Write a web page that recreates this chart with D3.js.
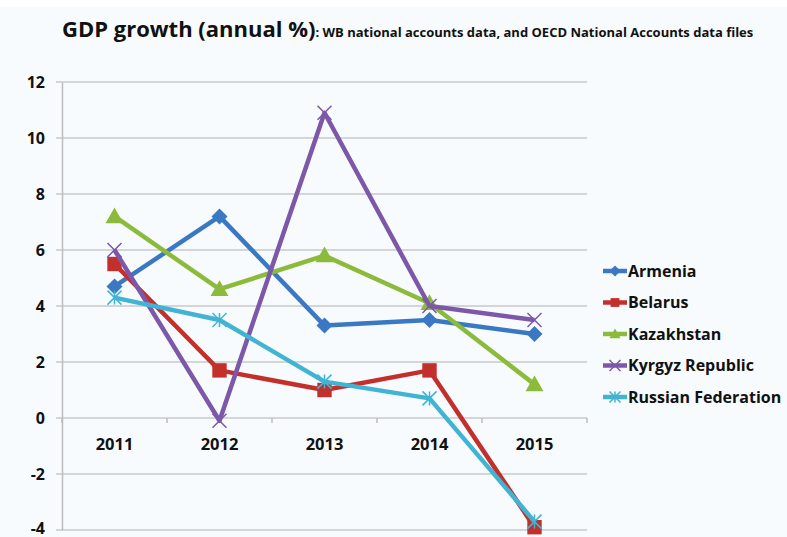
<!DOCTYPE html>
<html>
<head>
<meta charset="utf-8">
<script src="https://cdn.jsdelivr.net/npm/d3@7"></script>
<style>
  html, body { margin: 0; padding: 0; background: #ffffff; }
  svg { display: block; }
  text { font-family: "Open Sans", "Noto Sans", sans-serif; font-weight: bold; fill: #111; }
</style>
</head>
<body>
<svg id="chart" width="787" height="537"></svg>
<script>
// GDP growth (annual %), 2011–2015
const years = ["2011", "2012", "2013", "2014", "2015"];
const armenia    = [4.7, 7.2, 3.3, 3.5, 3.0];
const belarus    = [5.5, 1.7, 1.0, 1.7, -3.9];
const kazakhstan = [7.2, 4.6, 5.8, 4.1, 1.2];
const kyrgyz     = [6.0, -0.1, 10.9, 4.0, 3.5];
const russia     = [4.3, 3.5, 1.3, 0.7, -3.7];
const yTicks = [-4, -2, 0, 2, 4, 6, 8, 10, 12];

const series = [
  { name: "Armenia", values: armenia, color: "#3a78c4", marker: "diamond" },
  { name: "Belarus", values: belarus, color: "#c3302b", marker: "square" },
  { name: "Kazakhstan", values: kazakhstan, color: "#8cbb3c", marker: "triangle" },
  { name: "Kyrgyz Republic", values: kyrgyz, color: "#7d57a8", marker: "cross" },
  { name: "Russian Federation", values: russia, color: "#40b4d2", marker: "asterisk" }
];

const svg = d3.select("#chart");
const W = 787, H = 537;

// page backdrop
svg.append("rect").attr("width", W).attr("height", H).attr("fill", "#f7fbfd");
svg.append("rect").attr("width", W).attr("height", 7).attr("fill", "#ffffff");

const plot = { left: 62, right: 587, top: 82, bottom: 530 };

const x = d3.scaleBand().domain(years).range([plot.left, plot.right]);
const y = d3.scaleLinear().domain([-4, 12]).range([plot.bottom, plot.top]);

// title
const title = svg.append("text").attr("x", 62).attr("y", 37);
title.append("tspan").attr("font-size", 22).text("GDP growth (annual %)");
title.append("tspan").attr("font-size", 13).text(": WB national accounts data, and OECD National Accounts data files");

// horizontal gridlines
svg.append("g")
  .selectAll("line")
  .data(yTicks)
  .join("line")
  .attr("x1", plot.left - 6)
  .attr("x2", plot.right)
  .attr("y1", d => y(d))
  .attr("y2", d => y(d))
  .attr("stroke", "#c9c9c9")
  .attr("stroke-width", 1.5);

// y axis
const yAxis = d3.axisLeft(y).tickValues(yTicks).tickSize(0).tickPadding(17).tickFormat(d => String(d));
const gy = svg.append("g").attr("transform", `translate(${plot.left},0)`).call(yAxis);
gy.select(".domain").attr("stroke", "#bdbdbd").attr("stroke-width", 1.5);
gy.selectAll("text").attr("font-size", 16).attr("fill", "#111")
  .attr("font-family", "'Open Sans', sans-serif").attr("font-weight", "bold")
  .attr("dy", d => d === -4 ? "0.22em" : "0.32em");

// x axis at zero
const xAxis = d3.axisBottom(x).tickSize(0).tickPadding(20);
const gx = svg.append("g").attr("transform", `translate(0,${y(0)})`).call(xAxis);
gx.select(".domain").attr("stroke", "none");
gx.selectAll("text").attr("font-size", 16.5).attr("fill", "#111")
  .attr("font-family", "'Open Sans', sans-serif").attr("font-weight", "bold");
// category boundary ticks
const bounds = years.map(d => x(d)).concat([plot.right]);
gx.append("g").selectAll("line").data(bounds).join("line")
  .attr("x1", d => d).attr("x2", d => d).attr("y1", 0).attr("y2", 5)
  .attr("stroke", "#bdbdbd").attr("stroke-width", 1.5);

const cx = d => x(d) + x.bandwidth() / 2;

const line = d3.line()
  .x((d, i) => cx(years[i]))
  .y(d => y(d));

function drawMarker(g, type, color, size) {
  const s = size;
  if (type === "diamond") {
    g.append("path").attr("d", `M0,${-s}L${s},0L0,${s}L${-s},0Z`).attr("fill", color);
  } else if (type === "square") {
    g.append("rect").attr("x", -s * 0.8).attr("y", -s * 0.8).attr("width", s * 1.6).attr("height", s * 1.6).attr("fill", color);
  } else if (type === "triangle") {
    g.append("path").attr("d", `M0,${-s}L${s},${s * 0.75}L${-s},${s * 0.75}Z`).attr("fill", color);
  } else if (type === "cross") {
    g.append("path").attr("d", `M${-s},${-s}L${s},${s}M${-s},${s}L${s},${-s}`)
      .attr("stroke", color).attr("stroke-width", 1.5).attr("fill", "none");
  } else if (type === "asterisk") {
    g.append("path").attr("d", `M${-s},${-s}L${s},${s}M${-s},${s}L${s},${-s}M0,${-s}L0,${s}`)
      .attr("stroke", color).attr("stroke-width", 1.5).attr("fill", "none");
  }
}

const markerSize = { diamond: 8, square: 9, triangle: 9, cross: 7, asterisk: 7 };

series.forEach(s => {
  const g = svg.append("g");
  g.append("path")
    .datum(s.values)
    .attr("d", line)
    .attr("fill", "none")
    .attr("stroke", s.color)
    .attr("stroke-width", 4.5)
    .attr("stroke-linejoin", "round");
  s.values.forEach((v, i) => {
    const m = g.append("g").attr("transform", `translate(${cx(years[i])},${y(v)})`);
    drawMarker(m, s.marker, s.color, markerSize[s.marker]);
  });
});

// legend
const legend = svg.append("g").attr("transform", "translate(603,271)");
series.forEach((s, i) => {
  const row = legend.append("g").attr("transform", `translate(0,${i * 31.5})`);
  row.append("line").attr("x1", 0).attr("x2", 24).attr("y1", 0).attr("y2", 0)
    .attr("stroke", s.color).attr("stroke-width", 4.5);
  const m = row.append("g").attr("transform", "translate(12,0)");
  drawMarker(m, s.marker, s.color, 5.5);
  row.append("text").attr("x", 25).attr("y", 0).attr("dy", "0.35em")
    .attr("font-size", 16).text(s.name);
});
</script>
</body>
</html>
